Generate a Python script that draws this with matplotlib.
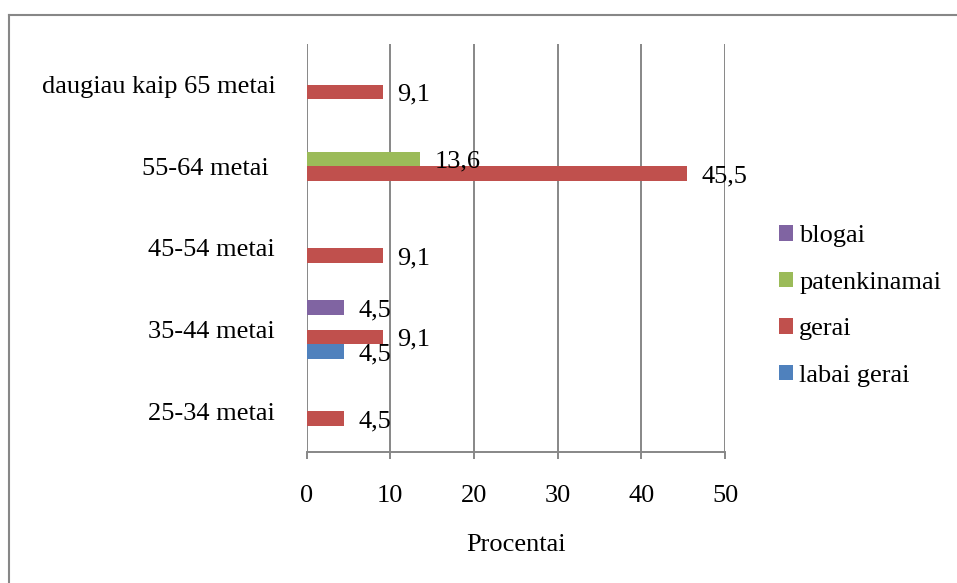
import matplotlib
matplotlib.use("Agg")
import matplotlib.pyplot as plt
from matplotlib.lines import Line2D
import numpy as np

# Age groups (bottom to top) and share of answers per rating, in percent
categories = ["25-34 metai", "35-44 metai", "45-54 metai", "55-64 metai ", "daugiau kaip 65 metai"]
series_names = ["labai gerai", "gerai", "patenkinamai", "blogai"]
labai_gerai = [0, 4.5, 0, 0, 0]
gerai = [4.5, 9.1, 9.1, 45.5, 9.1]
patenkinamai = [0, 0, 0, 13.6, 0]
blogai = [0, 4.5, 0, 0, 0]
x_ticks = [0, 10, 20, 30, 40, 50]
x_label = "Procentai"

series_values = [labai_gerai, gerai, patenkinamai, blogai]
colors = ["#4F81BD", "#C0504D", "#9BBB59", "#8064A2"]

plt.rcParams["font.family"] = ["Liberation Serif", "DejaVu Serif"]
FS = 19
GRID = "#878787"

W, H = 957, 583
fig = plt.figure(figsize=(W / 100, H / 100), dpi=100)
ax = fig.add_axes([306.5 / W, 1 - 452 / H, (725 - 306.5) / W, (452 - 44) / H])

y = np.arange(len(categories))
bar_h = 0.18
offsets = [-0.27, -0.09, 0.09, 0.27]

handles = []
for vals, name, col, off in zip(series_values, series_names, colors, offsets):
    bars = ax.barh(y + off, vals, height=bar_h, color=col, label=name, zorder=3)
    handles.append(bars)
    for yi, v in zip(y, vals):
        if v > 0:
            ax.annotate(f"{v:.1f}".replace(".", ","), xy=(v, yi + off),
                        xytext=(10.4, -6.3), textcoords="offset points",
                        ha="left", va="baseline", fontsize=FS, zorder=4)

ax.set_xlim(0, 50)
ax.set_ylim(-0.5, len(categories) - 0.5)
ax.set_xticks(x_ticks)
ax.set_xticklabels([str(t) for t in x_ticks])
ax.set_yticks(y)
ax.set_yticklabels(categories)

ax.grid(axis="x", color=GRID, linewidth=1.4, zorder=1)
ax.grid(axis="y", visible=False)
for s in ["top", "right", "left"]:
    ax.spines[s].set_visible(False)
ax.spines["bottom"].set_color(GRID)
ax.spines["bottom"].set_linewidth(1.4)
ax.spines["bottom"].set_zorder(2)

ax.tick_params(axis="x", direction="out", length=5, width=1.4, color=GRID,
               labelsize=FS, pad=18.5)
ax.tick_params(axis="y", length=0, labelsize=FS, pad=22.5)
ax.set_xlabel(x_label, fontsize=FS, labelpad=19.5)

# Legend, top entry first
leg = fig.legend(handles[::-1], series_names[::-1], loc="center left",
                 bbox_to_anchor=(779 / W, 1 - 306 / H), frameon=False,
                 fontsize=FS, handlelength=0.53, handleheight=0.53,
                 handletextpad=0.23, labelspacing=0.92, borderpad=0,
                 borderaxespad=0)

# Outer chart border
fig.add_artist(Line2D([9 / W, 1.01], [1 - 15 / H, 1 - 15 / H], color=GRID,
                      linewidth=1.5, transform=fig.transFigure))
fig.add_artist(Line2D([9 / W, 9 / W], [1 - 15 / H, -0.01], color=GRID,
                      linewidth=1.5, transform=fig.transFigure))

fig.savefig("out.png", dpi=100)
